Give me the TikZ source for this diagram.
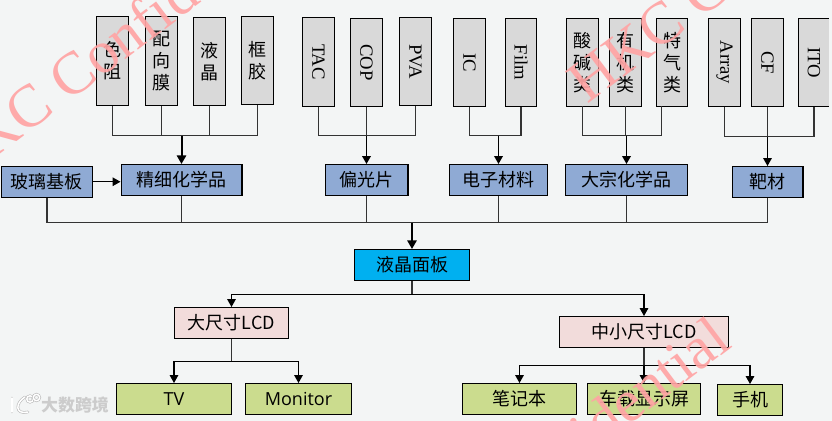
\documentclass[tikz,border=0pt]{standalone}
\usepackage{fontspec}
\usepackage{graphicx}
\setmainfont{Noto Sans CJK SC}
\newfontfamily\latinserif{Liberation Serif}
\newfontfamily\latinsans{Open Sans}
\usetikzlibrary{arrows.meta}
\definecolor{pagebg}{HTML}{F3F5F5}
\definecolor{tallgray}{HTML}{D9D9D9}
\definecolor{midblue}{HTML}{8FAAD4}
\definecolor{panelblue}{HTML}{00B0F0}
\definecolor{lcdpink}{HTML}{F2DCDB}
\definecolor{endgreen}{HTML}{CBDC8E}
\definecolor{markpink}{HTML}{FFA4A4}
\tikzset{
  flowarrow/.style={-{Triangle[length=6pt,width=6.5pt]}, line width=.8pt},
  mainarrow/.style={-{Triangle[length=6.5pt,width=7pt]}, line width=1.5pt},
  busline/.style={line width=.8pt, black!80},
  tallbox/.style={draw, line width=.8pt, fill=tallgray, minimum width=23.5pt, minimum height=66.5pt, inner sep=0pt, align=center, font=\fontsize{13.5}{16.5}\selectfont},
  latinbox/.style={tallbox, font=\latinserif\fontsize{14}{16}\selectfont},
  blocknode/.style={draw, line width=.8pt, minimum height=23.2pt, inner sep=0pt, align=center, font=\fontsize{13.5}{16}\selectfont},
  midnode/.style={blocknode, fill=midblue},
  lcdnode/.style={blocknode, fill=lcdpink},
  endnode/.style={blocknode, fill=endgreen},
  watermark/.style={rotate=37, anchor=west, inner sep=0pt, text=markpink, text opacity=.92, font=\latinserif\fontsize{45}{45}\selectfont},
  logomark/.style={draw=gray!55, line width=.45pt, double=white, double distance=1.1pt, line cap=round}
}
\newcommand{\vlabel}[1]{\rotatebox{-90}{#1}}
\begin{document}
\begin{tikzpicture}[x=.75pt, y=-.75pt]
  \useasboundingbox (0,0) rectangle (832,421);
  \fill[pagebg] (0,0) rectangle (832,421);
  % top row
  \node[tallbox] (sezu) at (112.5,61) {色\\阻};
  \node[tallbox] (peixiang) at (161.5,61) {配\\向\\膜};
  \node[tallbox] (yejing) at (209.5,61.5) {液\\晶};
  \node[tallbox] (kuangjiao) at (257.5,60.5) {框\\胶};
  \node[latinbox] (tac) at (318.5,62) {\vlabel{TAC}};
  \node[latinbox] (cop) at (366.5,62.5) {\vlabel{COP}};
  \node[latinbox] (pva) at (415.5,61.5) {\vlabel{PVA}};
  \node[latinbox] (ic) at (469.5,62.5) {\vlabel{IC}};
  \node[latinbox] (film) at (521,62.5) {\vlabel{Film}};
  \node[tallbox] (suanjian) at (582.5,62.5) {酸\\碱\\类};
  \node[tallbox] (youji) at (625.5,62.5) {有\\机\\类};
  \node[tallbox] (teqi) at (672,62.5) {特\\气\\类};
  \node[latinbox] (array) at (724.5,62.5) {\vlabel{Array}};
  \node[latinbox] (cf) at (767.5,62.5) {\vlabel{CF}};
  \node[latinbox] (ito) at (814,62.5) {\vlabel{ITO}};
  % middle row
  \node[midnode, minimum width=68.2pt] (glass) at (47,181.75) {玻璃基板};
  \node[midnode, minimum width=90.7pt] (fine) at (181.5,180) {精细化学品};
  \node[midnode, minimum width=62.2pt] (polar) at (366.5,180) {偏光片};
  \node[midnode, minimum width=73pt] (elec) at (498.5,180) {电子材料};
  \node[midnode, minimum width=91.8pt] (bulk) at (626.5,180) {大宗化学品};
  \node[midnode, minimum width=53.2pt] (target) at (767.5,182) {靶材};
  \node[blocknode, fill=panelblue, minimum width=86.5pt] (panel) at (412,265) {液晶面板};
  % bottom rows
  \node[lcdnode, minimum width=85.5pt] (large) at (231.5,323) {大尺寸LCD};
  \node[lcdnode, minimum width=127pt] (small) at (644,332) {中小尺寸LCD};
  \node[endnode, minimum width=86.2pt, font=\latinsans\fontsize{13.5}{16}\selectfont] (tv) at (174,399) {TV};
  \node[endnode, minimum width=79.5pt, font=\latinsans\fontsize{13.5}{16}\selectfont] (monitor) at (298.5,399) {Monitor};
  \node[endnode, minimum width=85.8pt] (laptop) at (519.5,399) {笔记本};
  \node[endnode, minimum width=85pt] (carscreen) at (644,399) {车载显示屏};
  \node[endnode, minimum width=48.8pt] (phone) at (750,400) {手机};
  % junctions
  \coordinate (busa) at (181.5,135.5);
  \coordinate (busb) at (366.5,135.5);
  \coordinate (busc) at (498.5,135.5);
  \coordinate (busd) at (626.5,135.5);
  \coordinate (buse) at (767.5,136.5);
  \coordinate (busf) at (412,222.5);
  \coordinate (busg) at (412,294.5);
  \coordinate (bush) at (231.5,361.5);
  \coordinate (busi) at (644,365.5);
  \coordinate (teqiout) at (661.5,106);
  % top groups
  \foreach \n in {sezu,peixiang,yejing,kuangjiao} \draw[busline] (\n.south) |- (busa);
  \foreach \n in {tac,cop,pva} \draw[busline] (\n.south) |- (busb);
  \foreach \n in {ic,film} \draw[busline] (\n.south) |- (busc);
  \foreach \n in {suanjian,youji,teqiout} \draw[busline] (\n |- teqiout) |- (busd);
  \foreach \n in {array,cf,ito} \draw[busline] (\n.south) |- (buse);
  \draw[mainarrow] (busa) -- (fine.north);
  \draw[flowarrow, line width=1.1pt] (busb) -- (polar.north);
  \draw[flowarrow, line width=1.1pt] (busc) -- (elec.north);
  \draw[flowarrow, line width=1.1pt] (busd) -- (bulk.north);
  \draw[flowarrow] (buse) -- (target.north);
  \draw[flowarrow] (glass.east) -- (glass.east -| fine.west);
  % to the panel
  \foreach \n in {glass,fine,polar,elec,bulk,target} \draw[busline] (\n.south) |- (busf);
  \draw[mainarrow] (busf) -- (panel.north);
  \draw[busline] (panel.south) -- (busg);
  \draw[flowarrow] (busg) -| (large.north);
  \draw[flowarrow] (busg) -| (small.north);
  % to the products
  \draw[busline] (large.south) -- (bush);
  \draw[flowarrow] (bush) -| (tv.north);
  \draw[flowarrow] (bush) -| (monitor.north);
  \draw[busline] (small.south) -- (busi);
  \draw[flowarrow] (busi) -| (laptop.north);
  \draw[flowarrow] (busi) -- (carscreen.north);
  \draw[flowarrow] (busi) -| (phone.north);
  % the page stops at the ITO box
  \fill[pagebg] (829,0) rectangle (832,421);
  % watermarks
  \begin{scope}
    \clip (0,0) rectangle (832,421);
    \node[watermark] (marka) at (-57,171) {HKC Confidential};
    \node[watermark] (markb) at (575,88) {HKC Confidential};
    \node[watermark] (markc) at (368,596) {HKC Confidential};
  \end{scope}
  % logo
  \draw[logomark] (12,398) -- (12,412);
  \draw[logomark] (25,397) .. controls (15,403) and (15,415) .. (28,412);
  \draw[logomark] (30,399) circle (3.2);
  \draw[logomark] (36.5,397.5) circle (3.2);
  \node[text=gray!40, font=\bfseries\fontsize{12.7}{14}\selectfont, inner sep=0pt] (logotext) at (75,405) {大数跨境};
\end{tikzpicture}
\end{document}
